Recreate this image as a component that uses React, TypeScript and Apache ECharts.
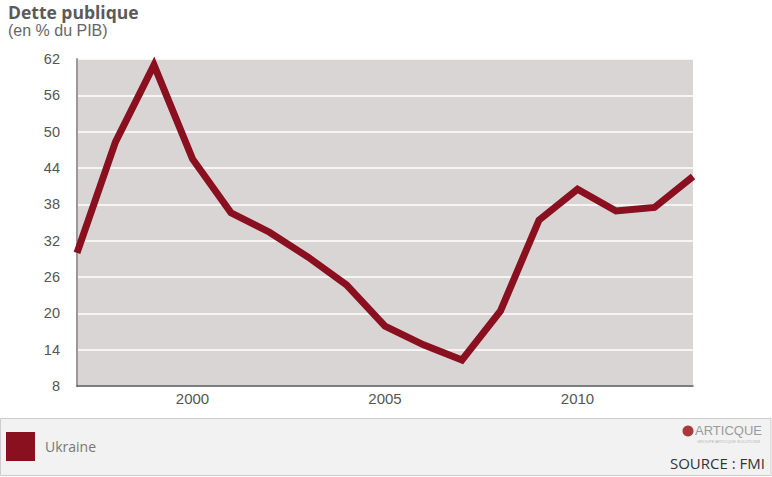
import React, { useEffect, useRef } from "react";
import * as echarts from "echarts";

const years = ["1997","1998","1999","2000","2001","2002","2003","2004","2005","2006","2007","2008","2009","2010","2011","2012","2013"];
const ukraineDebt = [30.0, 48.3, 61.0, 45.5, 36.6, 33.4, 29.3, 24.7, 17.9, 14.8, 12.3, 20.4, 35.4, 40.5, 36.9, 37.5, 42.6];
const shownYearLabels = ["2000", "2005", "2010"];
const seriesName = "Ukraine";
const titleText = "Dette publique";
const subtitleText = "(en % du PIB)";
const sourceText = "SOURCE : FMI";

export default function App() {
  const ref = useRef<HTMLDivElement>(null);
  useEffect(() => {
    if (!ref.current) return;
    const chart = echarts.init(ref.current, undefined, { renderer: "svg" });
    chart.setOption({
      animation: false,
      backgroundColor: "#ffffff",
      grid: { left: 77, top: 59, width: 616, height: 327, show: true, backgroundColor: "#d9d5d4", borderWidth: 0 },
      xAxis: {
        type: "category",
        data: years,
        boundaryGap: false,
        axisLine: { show: true, lineStyle: { color: "#555555", width: 1.5 } },
        axisTick: { show: false },
        splitLine: { show: false },
        axisLabel: {
          interval: (_i: number, v: string) => shownYearLabels.includes(v),
          color: "#555555",
          fontFamily: "Liberation Sans",
          fontSize: 15,
          margin: 5,
        },
      },
      yAxis: {
        type: "value",
        min: 8,
        max: 62,
        interval: 6,
        axisLine: { show: true, lineStyle: { color: "#999999", width: 2 } },
        axisTick: { show: false },
        splitLine: { show: true, lineStyle: { color: "#ffffff", width: 1.5 } },
        axisLabel: { color: "#555555", fontFamily: "Liberation Sans", fontSize: 14.5, margin: 17 },
      },
      legend: {
        show: true,
        left: 6,
        top: 432,
        padding: 0,
        icon: "rect",
        itemWidth: 29,
        itemHeight: 29,
        textStyle: { color: "#777777", fontFamily: "Open Sans", fontSize: 14, padding: [0, 0, 0, 5] },
        data: [seriesName],
      },
      series: [
        {
          name: seriesName,
          type: "line",
          data: ukraineDebt,
          symbol: "none",
          color: "#8a0f1f",
          lineStyle: { color: "#8a0f1f", width: 7, join: "miter" },
          z: 5,
        },
      ],
      graphic: [
        { type: "text", left: 8, top: 2, style: { text: titleText, fill: "#5a5a5a", font: "bold 17.5px 'Open Sans'", lineHeight: 19 } },
        { type: "text", left: 8, top: 22, style: { text: subtitleText, fill: "#666666", font: "16px 'Liberation Sans'", lineHeight: 17 } },
        { type: "rect", shape: { x: 0.5, y: 418.5, width: 770.5, height: 57 }, style: { fill: "#f2f2f2", stroke: "#cccccc", lineWidth: 1 }, z: -10 },
        { type: "circle", shape: { cx: 688, cy: 431, r: 5.5 }, style: { fill: "#a83a3a" } },
        { type: "text", x: 695, y: 424, style: { text: "ARTICQUE", fill: "#9a9a9a", font: "13px 'Liberation Sans Narrow', 'Liberation Sans'" } },
        { type: "text", x: 697, y: 439, style: { text: "GROUPE ARTICQUE SOLUTIONS", fill: "#b5b5b5", font: "4px 'Liberation Sans'" } },
        { type: "text", right: 7, top: 455, style: { text: sourceText, fill: "#333333", font: "15px 'Open Sans'" } },
      ],
    });
    return () => chart.dispose();
  }, []);
  return <div ref={ref} style={{ position: "fixed", left: 0, top: 0, width: 772, height: 477 }} />;
}
